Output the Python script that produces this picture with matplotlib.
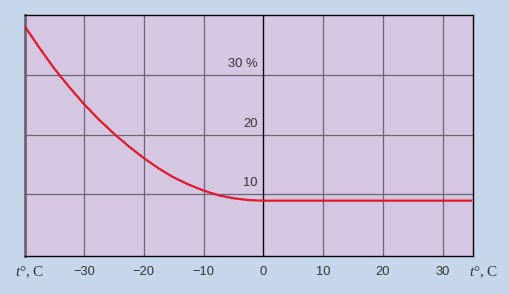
import matplotlib.pyplot as plt

# temperature, deg C  /  value, %
temps = [-40, -37.5, -35, -32.5, -30, -27.5, -25, -22.5, -20, -17.5, -15,
         -12.5, -10, -7.5, -5, -2.5, 0, 35]
values = [38.3, 34.6, 31.1, 28.0, 25.1, 22.5, 20.15, 18.0, 16.05, 14.3, 12.8,
          11.6, 10.6, 9.8, 9.3, 9.0, 8.9, 8.9]

x_ticks = [-30, -20, -10, 0, 10, 20, 30]
x_tick_labels = ["\u221230", "\u221220", "\u221210", "0", "10", "20", "30"]
y_ticks = [10, 20, 30]
y_tick_labels = ["10", "20", "30 %"]

plt.rcParams['mathtext.fontset'] = 'custom'
plt.rcParams['mathtext.rm'] = 'Liberation Serif'
plt.rcParams['mathtext.it'] = 'Liberation Serif:italic'

bg = "#c6d7ec"
panel = "#d5c7e1"
grid_c = "#6b6672"
text_c = "#333333"

fig = plt.figure(figsize=(5.09, 2.94), dpi=100, facecolor=bg)
ax = fig.add_axes([25 / 509, 38 / 294, 448 / 509, 241 / 294])
ax.set_facecolor(panel)

ax.set_xlim(-39.9, 35.1)
ax.set_ylim(-0.4, 40.1)

ax.set_xticks(x_ticks)
ax.set_xticklabels(x_tick_labels, fontsize=9.3, color=text_c,
                   fontfamily="Liberation Sans")
ax.set_yticks(y_ticks)
ax.set_yticklabels([])
ax.tick_params(length=0)
ax.tick_params(axis="x", pad=7)

ax.grid(True, color=grid_c, linewidth=0.9)
ax.set_axisbelow(True)
ax.axvline(0, color="black", linewidth=0.9, zorder=2)

for side in ["top", "right", "bottom"]:
    ax.spines[side].set_color("black")
    ax.spines[side].set_linewidth(1.0)
ax.spines["left"].set_color(grid_c)
ax.spines["left"].set_linewidth(2.0)

ax.plot(temps, values, color="#e3172b", linewidth=1.6, zorder=3,
        solid_capstyle="butt", solid_joinstyle="round")

for v, lab in zip(y_ticks, y_tick_labels):
    ax.text(-1.0, v + 1.8, lab, ha="right", va="center", fontsize=9.3,
            color=text_c, fontfamily="Liberation Sans")

fig.text(30 / 509, 1 - 272 / 294, r"$t$°, C", ha="center", va="center",
         fontsize=11, color=text_c, fontfamily="Liberation Serif")
fig.text(484 / 509, 1 - 272 / 294, r"$t$°, C", ha="center", va="center",
         fontsize=11, color=text_c, fontfamily="Liberation Serif")

fig.savefig("out.png", dpi=100, facecolor=bg)
